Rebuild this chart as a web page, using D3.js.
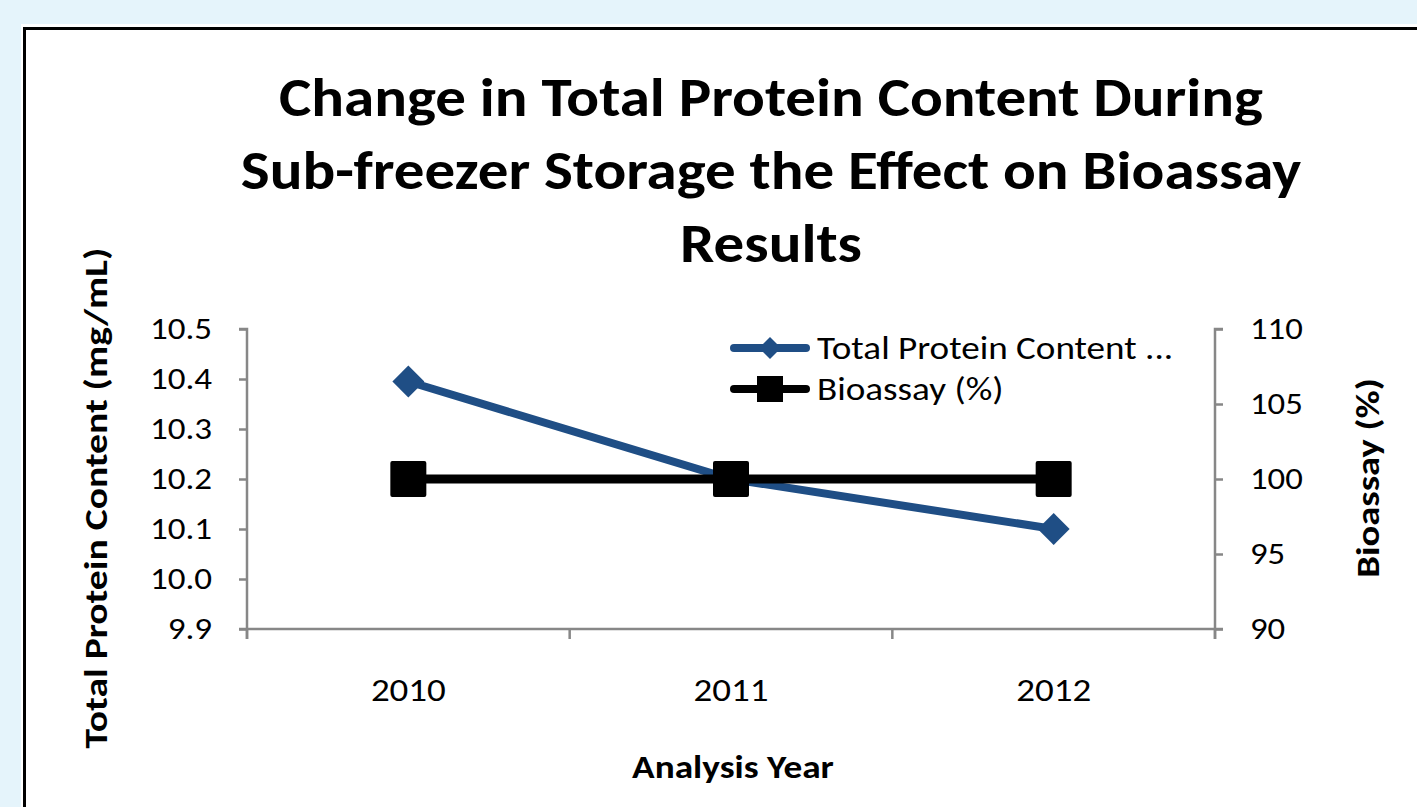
<!DOCTYPE html>
<html>
<head>
<meta charset="utf-8">
<script src="https://cdn.jsdelivr.net/npm/d3@7"></script>
<style>
  body { margin: 0; background: #e5f4fb; overflow: hidden; }
  text { font-family: Carlito, Lato, "Open Sans", sans-serif; }
</style>
</head>
<body>
<div id="chart"></div>
<script>
  // chart data
  var years = ["2010", "2011", "2012"];
  var protein = [10.395, 10.2, 10.1];
  var bioassay = [100, 100, 100];
  var leftTicks = [9.9, 10.0, 10.1, 10.2, 10.3, 10.4, 10.5];
  var rightTicks = [90, 95, 100, 105, 110];
  var titleLines = ["Change in Total Protein Content During",
                    "Sub-freezer Storage the Effect on Bioassay",
                    "Results"];

  var W = 1417, H = 807;
  var plot = { left: 247, right: 1215, top: 329, bottom: 629 };

  // the reference text is a little wider than Lato, so stretch it
  function stretch(sel, k) {
      sel.each(function () {
          var len = this.getComputedTextLength();
          d3.select(this).attr("textLength", len * k).attr("lengthAdjust", "spacingAndGlyphs");
      });
  }

  var svg = d3.select("#chart").append("svg")
      .attr("width", W)
      .attr("height", H);

  // white panel with black border
  svg.append("rect")
      .attr("x", 21).attr("y", 24)
      .attr("width", W).attr("height", H)
      .attr("fill", "#fff");
  svg.append("rect")
      .attr("x", 24.5).attr("y", 28.5)
      .attr("width", W).attr("height", H)
      .attr("fill", "#fff")
      .attr("stroke", "#000")
      .attr("stroke-width", 3);

  // title
  svg.append("g").selectAll("text")
      .data(titleLines)
      .enter().append("text")
      .attr("x", 771)
      .attr("y", function (d, i) { return 116 + i * 73; })
      .attr("text-anchor", "middle")
      .attr("font-size", 55)
      .attr("font-weight", "bold")
      .text(function (d) { return d; })
      .call(stretch, 1.11);

  var x = d3.scaleBand().domain(years).range([plot.left, plot.right]);
  var yL = d3.scaleLinear().domain([9.9, 10.5]).range([plot.bottom, plot.top]);
  var yR = d3.scaleLinear().domain([90, 110]).range([plot.bottom, plot.top]);

  var axisColor = "#878787";

  // left axis
  var gL = svg.append("g")
      .attr("transform", "translate(" + plot.left + ",0)")
      .call(d3.axisLeft(yL).tickValues(leftTicks).tickFormat(d3.format(".1f")).tickSize(8).tickPadding(27));

  // right axis
  var gR = svg.append("g")
      .attr("transform", "translate(" + plot.right + ",0)")
      .call(d3.axisRight(yR).tickValues(rightTicks).tickSize(8).tickPadding(27));

  // bottom axis: ticks at category boundaries
  var bounds = [plot.left].concat(years.map(function (d) { return x(d) + x.bandwidth(); }));
  var gB = svg.append("g")
      .attr("transform", "translate(0," + plot.bottom + ")")
      .call(d3.axisBottom(x).tickSize(0).tickPadding(52));
  gB.selectAll(".bound")
      .data(bounds)
      .enter().append("line")
      .attr("class", "bound")
      .attr("x1", function (d) { return d; })
      .attr("x2", function (d) { return d; })
      .attr("y1", 0).attr("y2", 10);

  [gL, gR, gB].forEach(function (g) {
      g.select(".domain").attr("stroke", axisColor).attr("stroke-width", 2.5);
      g.selectAll("line").attr("stroke", axisColor).attr("stroke-width", 2.5);
      g.selectAll("text").attr("fill", "#000")
          .attr("font-family", "Carlito, Lato, 'Open Sans', sans-serif");
  });
  gL.selectAll(".tick text").attr("font-size", 31).call(stretch, 1.13);
  gR.selectAll(".tick text").attr("font-size", 31).call(stretch, 1.12);
  gB.selectAll(".tick text").attr("font-size", 33).attr("dy", "0.62em").call(stretch, 1.12);
  gL.select(".domain").attr("d", "M-8," + plot.top + "H0V" + (plot.bottom + 10));
  gR.select(".domain").attr("d", "M8," + plot.top + "H0V" + (plot.bottom + 10));
  gB.select(".domain").attr("d", "M" + (plot.left - 8) + ",0H" + (plot.right + 8));

  // axis titles
  svg.append("text")
      .attr("transform", "translate(107,498) rotate(-90)")
      .attr("text-anchor", "middle")
      .attr("font-size", 33).attr("font-weight", "bold")
      .text("Total Protein Content (mg/mL)")
      .call(stretch, 1.2);
  svg.append("text")
      .attr("transform", "translate(1379,478) rotate(-90)")
      .attr("text-anchor", "middle")
      .attr("font-size", 33).attr("font-weight", "bold")
      .text("Bioassay (%)")
      .call(stretch, 1.17);
  svg.append("text")
      .attr("x", 733).attr("y", 778)
      .attr("text-anchor", "middle")
      .attr("font-size", 33).attr("font-weight", "bold")
      .text("Analysis Year")
      .call(stretch, 1.13);

  var cx = function (i) { return x(years[i]) + x.bandwidth() / 2; };
  var blue = "#1f4e85";

  // protein series
  svg.append("path")
      .datum(protein)
      .attr("fill", "none")
      .attr("stroke", blue)
      .attr("stroke-width", 8)
      .attr("d", d3.line().x(function (d, i) { return cx(i); }).y(function (d) { return yL(d); }));
  svg.append("g").selectAll("path")
      .data(protein)
      .enter().append("path")
      .attr("d", d3.symbol().type(d3.symbolDiamond2).size(650))
      .attr("transform", function (d, i) { return "translate(" + cx(i) + "," + yL(d) + ")"; })
      .attr("fill", blue);

  // bioassay series
  svg.append("path")
      .datum(bioassay)
      .attr("fill", "none")
      .attr("stroke", "#000")
      .attr("stroke-width", 9)
      .attr("d", d3.line().x(function (d, i) { return cx(i); }).y(function (d) { return yR(d); }));
  svg.append("g").selectAll("rect")
      .data(bioassay)
      .enter().append("rect")
      .attr("x", function (d, i) { return cx(i) - 18; })
      .attr("y", function (d) { return yR(d) - 18; })
      .attr("width", 36).attr("height", 36)
      .attr("rx", 2)
      .attr("fill", "#000");

  // legend
  var legend = [
      { name: "Total Protein Content ...", color: blue, shape: "diamond" },
      { name: "Bioassay (%)", color: "#000", shape: "square" }
  ];
  var lg = svg.append("g").selectAll("g")
      .data(legend)
      .enter().append("g")
      .attr("transform", function (d, i) { return "translate(770," + (348 + i * 41) + ")"; });
  lg.append("line")
      .attr("x1", -36).attr("x2", 36)
      .attr("stroke", function (d) { return d.color; })
      .attr("stroke-width", 8)
      .attr("stroke-linecap", "round");
  lg.append("path")
      .attr("d", function (d) {
          return d.shape === "diamond"
              ? d3.symbol().type(d3.symbolDiamond2).size(310)()
              : "M-13,-13H13V13H-13Z";
      })
      .attr("fill", function (d) { return d.color; });
  lg.append("text")
      .attr("x", 47).attr("y", 11)
      .attr("font-size", 32)
      .text(function (d) { return d.name; })
      .call(stretch, 1.16);
</script>
</body>
</html>
